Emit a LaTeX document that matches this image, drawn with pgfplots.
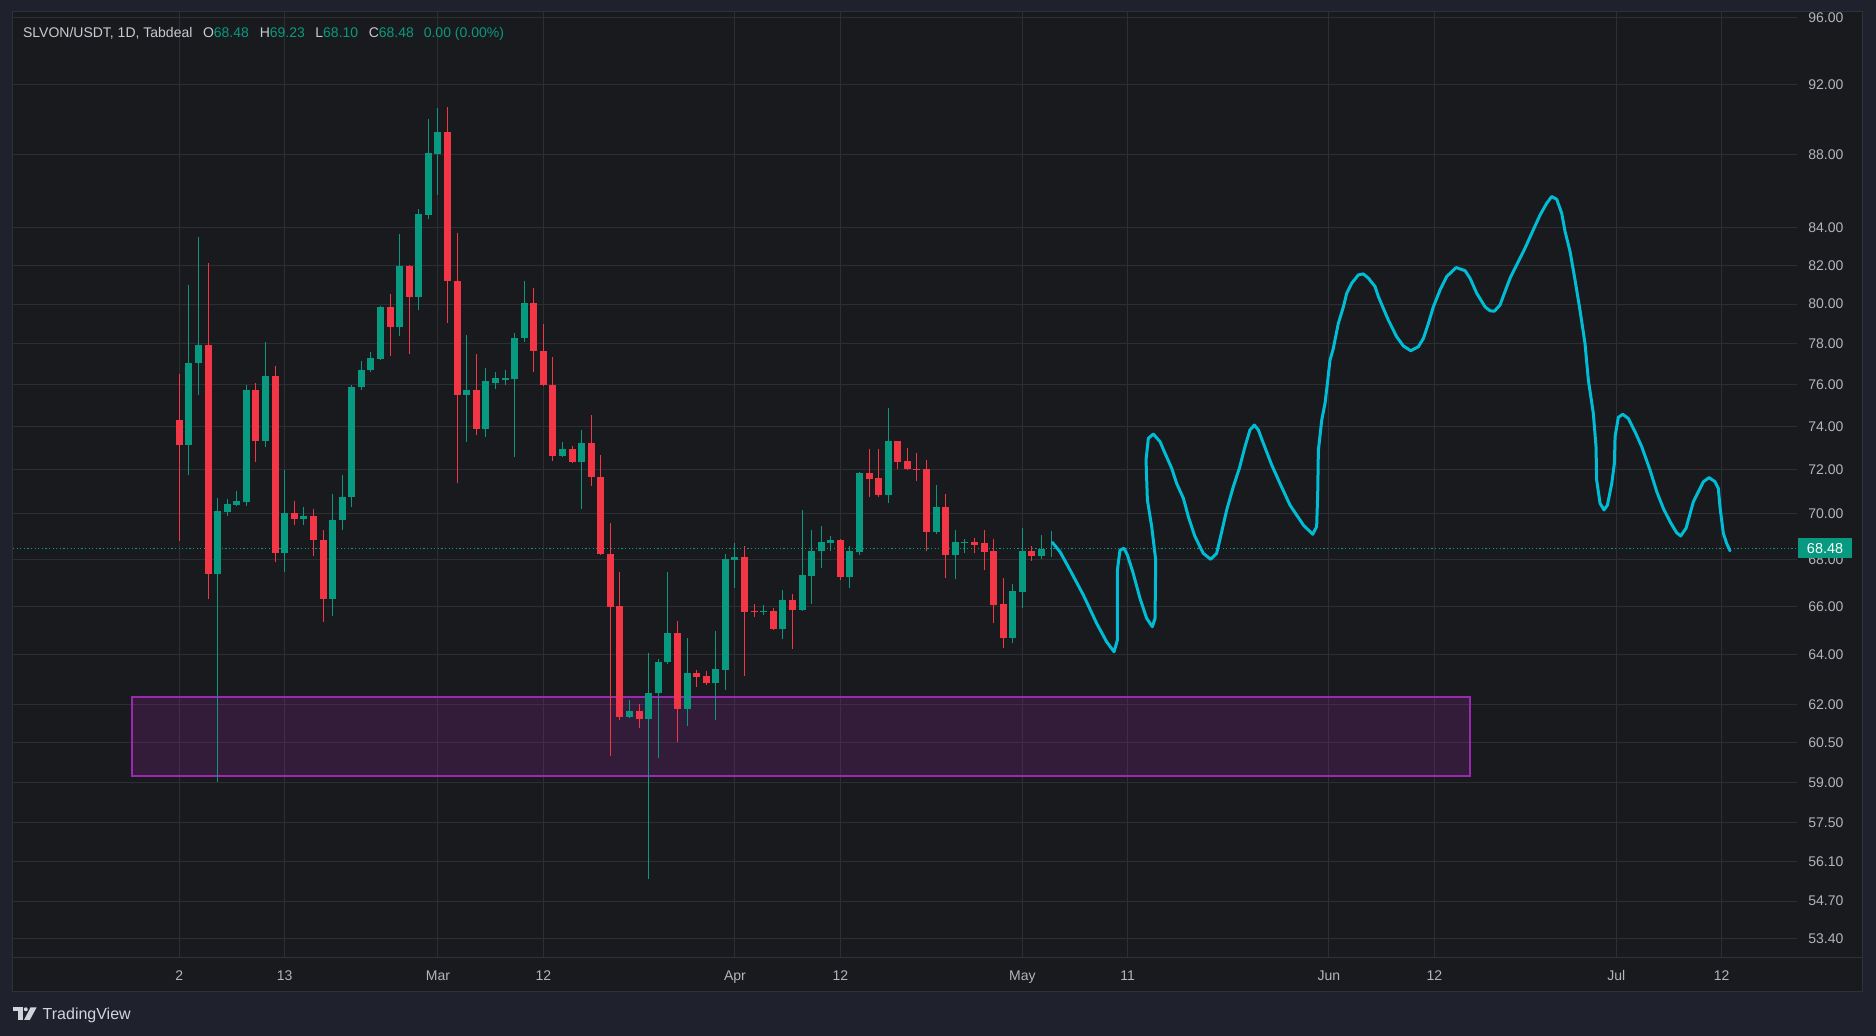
\documentclass[border=0pt]{standalone}
\usepackage{fontspec}
\setmainfont{Liberation Sans}
\usepackage{pgfplots}
\usepackage{pgfplotstable}
\pgfplotsset{compat=1.18}
\definecolor{framecol}{RGB}{31,34,45}
\definecolor{panelbg}{RGB}{25,26,29}
\definecolor{gridcol}{RGB}{44,46,51}
\definecolor{sepcol}{RGB}{46,49,58}
\definecolor{cgreen}{RGB}{8,153,129}
\definecolor{cred}{RGB}{242,54,69}
\definecolor{cblue}{RGB}{0,188,212}
\definecolor{purp}{RGB}{156,39,176}
\definecolor{tickcol}{RGB}{178,181,190}
\definecolor{hdrcol}{RGB}{200,203,210}
\definecolor{logocol}{RGB}{209,212,220}

\pgfplotstableread{
i o h l c
0 74.30 76.55 68.80 73.12
1 73.12 81.00 71.73 77.08
2 77.04 83.49 75.50 77.97
3 77.97 82.10 66.30 67.35
4 67.35 70.73 59.01 70.14
5 70.10 70.68 69.90 70.46
6 70.41 71.04 70.33 70.59
7 70.55 76.00 70.37 75.74
8 75.74 76.08 72.33 73.32
9 73.32 78.12 73.06 76.45
10 76.45 76.90 67.87 68.26
11 68.26 72.00 67.44 70.05
12 70.05 70.59 69.49 69.75
13 69.75 70.32 69.52 69.92
14 69.92 70.23 68.13 68.82
15 68.82 69.30 65.33 66.30
16 66.30 70.90 65.58 69.73
17 69.73 71.76 69.30 70.77
18 70.74 76.00 70.29 75.89
19 75.88 77.17 75.75 76.74
20 76.71 77.60 76.60 77.32
21 77.27 79.90 77.20 79.87
22 79.87 80.52 77.42 78.86
23 78.86 83.63 78.37 81.98
24 81.98 82.00 77.52 80.37
25 80.37 85.00 79.72 84.73
26 84.67 90.00 84.46 88.08
27 88.03 90.65 85.76 89.27
28 89.27 90.70 79.03 81.17
29 81.17 83.70 71.40 75.50
30 75.50 78.47 73.30 75.74
31 75.74 77.50 73.60 73.90
32 73.90 76.80 73.50 76.16
33 76.11 76.60 75.80 76.31
34 76.25 76.70 76.00 76.32
35 76.26 78.55 72.60 78.32
36 78.29 81.20 78.10 80.07
37 80.07 80.83 76.60 77.63
38 77.63 79.02 75.95 75.98
39 75.98 77.37 72.42 72.65
40 72.65 73.27 72.60 72.94
41 72.94 73.10 72.29 72.33
42 72.33 73.84 70.20 73.23
43 73.23 74.54 71.26 71.67
44 71.67 72.70 68.20 68.25
45 68.25 69.60 60.00 65.97
46 65.99 67.47 61.40 61.51
47 61.51 62.17 61.45 61.74
48 61.74 62.00 61.07 61.43
49 61.43 64.08 55.46 62.45
50 62.44 63.83 59.90 63.71
51 63.70 67.45 63.60 64.86
52 64.86 65.40 60.55 61.81
53 61.81 64.66 61.14 63.26
54 63.26 63.38 62.70 63.10
55 63.13 63.34 62.78 62.85
56 62.85 64.98 61.38 63.42
57 63.38 68.24 62.57 68.00
58 67.96 68.69 66.76 68.11
59 68.11 68.56 63.13 65.75
60 65.78 66.10 65.55 65.74
61 65.74 66.07 65.64 65.78
62 65.78 65.93 65.00 65.06
63 65.06 66.68 64.62 66.25
64 66.25 66.50 64.21 65.86
65 65.86 70.15 65.80 67.32
66 67.29 69.30 66.10 68.37
67 68.34 69.44 67.64 68.74
68 68.69 69.00 68.37 68.82
69 68.82 68.87 67.10 67.22
70 67.22 68.56 66.76 68.34
71 68.30 71.90 68.20 71.85
72 71.85 72.94 70.77 71.58
73 71.62 72.94 70.77 70.86
74 70.86 74.88 70.50 73.32
75 73.32 73.32 72.05 72.35
76 72.38 73.00 71.98 72.03
77 72.05 72.77 71.49 71.97
78 72.03 72.46 68.37 69.17
79 69.17 71.30 69.10 70.28
80 70.28 70.90 67.18 68.20
81 68.20 69.30 67.14 68.74
82 68.69 68.87 68.26 68.74
83 68.74 68.92 68.26 68.64
84 68.69 69.30 67.55 68.30
85 68.34 68.90 65.30 66.05
86 66.10 67.18 64.25 64.66
87 64.66 66.93 64.45 66.63
88 66.60 69.35 65.93 68.37
89 68.37 68.60 67.94 68.16
90 68.16 69.08 68.03 68.46
91 68.48 69.23 68.10 68.48
}\ohlc

\pgfplotstableread{
x p
91.13 68.74
91.93 68.33
92.97 67.54
94.37 66.47
95.76 65.28
96.80 64.52
97.57 64.11
97.92 64.59
97.92 67.54
98.19 68.40
98.61 68.48
98.96 68.19
99.52 67.47
100.28 66.33
100.98 65.49
101.57 65.14
101.85 65.49
101.92 67.97
101.50 69.43
101.05 70.62
100.91 72.44
101.15 73.45
101.67 73.65
102.37 73.29
102.89 72.75
103.59 72.06
104.11 71.37
104.81 70.69
105.33 69.87
106.02 68.99
106.89 68.26
107.66 68.00
108.28 68.26
108.81 69.21
109.33 70.17
110.02 71.22
110.65 72.06
111.24 73.06
111.76 73.84
112.22 74.07
112.63 73.84
113.16 73.21
114.03 72.21
114.90 71.37
115.94 70.39
117.33 69.50
118.31 69.09
118.72 69.43
118.83 70.92
118.90 72.90
119.25 74.31
119.59 75.10
119.84 76.06
120.11 77.20
120.46 77.78
120.98 79.03
121.51 79.87
121.86 80.55
122.38 81.07
123.07 81.50
123.59 81.55
124.12 81.33
124.81 80.90
125.16 80.38
125.68 79.79
126.20 79.20
127.07 78.36
127.77 77.91
128.54 77.66
129.34 77.86
129.86 78.28
130.38 79.03
130.90 79.87
131.60 80.72
132.29 81.41
133.27 81.88
134.21 81.72
134.73 81.33
135.43 80.55
136.30 79.87
136.82 79.67
137.27 79.65
137.86 79.96
138.38 80.64
138.91 81.33
139.60 82.02
140.47 82.90
141.17 83.69
142.04 84.67
142.73 85.30
143.25 85.67
143.78 85.52
144.30 84.76
144.65 83.78
145.17 82.72
145.69 81.24
146.21 79.70
146.73 78.03
147.08 76.23
147.60 74.63
147.88 73.06
147.95 71.52
148.30 70.47
148.72 70.17
149.07 70.39
149.52 71.37
149.80 72.29
149.87 73.52
150.21 74.44
150.67 74.58
151.26 74.39
151.95 73.76
152.65 73.06
153.52 71.98
154.22 70.99
154.91 70.24
155.61 69.65
156.30 69.16
156.72 69.02
157.28 69.36
158.04 70.54
159.09 71.45
159.68 71.63
160.30 71.45
160.65 71.14
160.82 70.32
161.17 69.13
161.52 68.69
161.87 68.37
}\drawn

\begin{document}
\begin{tikzpicture}
\useasboundingbox (0pt,0pt) rectangle (938pt,518pt);
\fill[framecol] (0pt,0pt) rectangle (938pt,518pt);
\fill[panelbg] (6.15pt,22.15pt) rectangle (931pt,512pt);
\draw[sepcol, line width=0.5pt] (6.15pt,22.15pt) rectangle (931pt,512pt);
\begin{axis}[
  at={(6.5pt,39.25pt)}, anchor=south west,
  scale only axis, width=892pt, height=472.75pt,
  xmin=-17.36, xmax=168.86,
  ymode=log, ymin=52.77, ymax=96.36,
  axis line style={draw=none},
  major tick length=0pt, minor tick length=0pt,
  tick style={draw=none},
  xtick={0,11,27,38,58,69,88,99,120,131,150,161},
  xticklabels={2,13,Mar,12,Apr,12,May,11,Jun,12,Jul,12},
  ytick={53.4,54.7,56.1,57.5,59,60.5,62,64,66,68,70,72,74,76,78,80,82,84,88,92,96},
  yticklabels={53.40,54.70,56.10,57.50,59.00,60.50,62.00,64.00,66.00,68.00,70.00,72.00,74.00,76.00,78.00,80.00,82.00,84.00,88.00,92.00,96.00},
  yticklabel pos=right,
  grid=major,
  major grid style={draw=gridcol, line width=0.5pt},
  xticklabel style={anchor=north, inner sep=0pt, text height=5pt, text depth=0pt, yshift=-6.2pt, text=tickcol, font=\fontsize{7}{8}\selectfont},
  yticklabel style={anchor=west, inner sep=0pt, xshift=5.5pt, text=tickcol, font=\fontsize{7}{8}\selectfont},
]
% demand zone
\addplot[draw=purp, line width=1pt, fill=purp, fill opacity=0.2] coordinates {(-4.98,59.23) (134.72,59.23) (134.72,62.29) (-4.98,62.29)} -- cycle;
% last price line
\addplot[cgreen, line width=0.5pt, dash pattern=on 0.6pt off 1.2pt] coordinates {(-17.36,68.48) (168.86,68.48)};
% candles
\pgfplotstablegetrowsof{\ohlc}
\pgfmathtruncatemacro{\nlast}{\pgfplotsretval-1}
\pgfplotsforeachungrouped \k in {0,...,\nlast}{%
  \pgfplotstablegetelem{\k}{i}\of\ohlc \let\ci\pgfplotsretval
  \pgfplotstablegetelem{\k}{o}\of\ohlc \let\co\pgfplotsretval
  \pgfplotstablegetelem{\k}{h}\of\ohlc \let\ch\pgfplotsretval
  \pgfplotstablegetelem{\k}{l}\of\ohlc \let\cl\pgfplotsretval
  \pgfplotstablegetelem{\k}{c}\of\ohlc \let\cc\pgfplotsretval
  \pgfmathtruncatemacro{\up}{\cc>=\co ? 1 : 0}%
  \ifnum\up=1 \def\col{cgreen}\else\def\col{cred}\fi
  \edef\doit{%
    \noexpand\addplot[draw=\col, line width=0.5pt, forget plot] coordinates {(\ci,\cl) (\ci,\ch)};%
    \noexpand\addplot[draw=\col, line width=3.5pt, forget plot] coordinates {(\ci,\co) (\ci,\cc)};%
  }\doit
}
% drawn projection
\addplot[cblue, line width=1.5pt, line join=round, line cap=round] table[x=x, y=p] {\drawn};
\end{axis}
\draw[sepcol, line width=0.5pt] (6.15pt,39.4pt) -- (931pt,39.4pt);
% last price tag
\node[fill=cgreen, text=white, inner sep=0pt, minimum width=27pt, minimum height=10.2pt, font=\fontsize{7.2}{8}\selectfont] at (912.5pt,243.85pt) {68.48};
% header
\begin{scope}[every node/.style={anchor=base west, inner sep=0pt, text=hdrcol, font=\fontsize{7}{8}\selectfont}]
\node at (11.35pt,499.15pt) {SLVON/USDT, 1D, Tabdeal};
\node at (101.3pt,499.15pt) {O\textcolor{cgreen}{68.48}};
\node at (129.7pt,499.15pt) {H\textcolor{cgreen}{69.23}};
\node at (157.5pt,499.15pt) {L\textcolor{cgreen}{68.10}};
\node at (184.2pt,499.15pt) {C\textcolor{cgreen}{68.48}};
\node at (211.7pt,499.15pt) {\textcolor{cgreen}{0.00 (0.00\%)}};
\end{scope}
% TradingView logo
\fill[logocol] (6.35pt,12.35pt) rectangle (11.35pt,14.35pt);
\fill[logocol] (9.15pt,8.0pt) rectangle (11.35pt,14.35pt);
\fill[logocol] (12.9pt,13.35pt) circle (1.0pt);
\fill[logocol] (15.3pt,14.35pt) -- (18.35pt,14.35pt) -- (14.9pt,8.0pt) -- (12.0pt,8.0pt) -- cycle;
\node[anchor=base west, inner sep=0pt, text=logocol, font=\fontsize{8}{9}\selectfont] at (21.15pt,8.0pt) {TradingView};
\end{tikzpicture}
\end{document}
